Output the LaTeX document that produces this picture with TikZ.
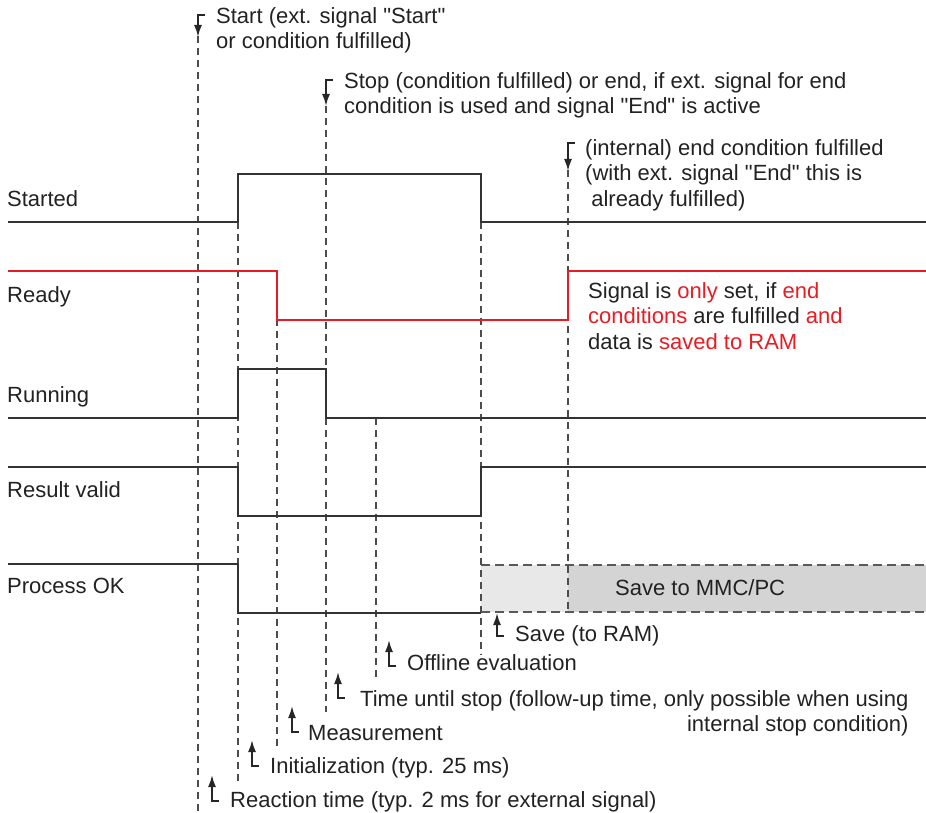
\documentclass[tikz,border=0pt]{standalone}
\usepackage{fontspec}
\setmainfont{Liberation Sans}
\usepackage{xcolor}
\usepackage{tikz}
\usetikzlibrary{arrows.meta}

\definecolor{sigred}{RGB}{232,28,36}
\definecolor{ink}{RGB}{34,34,34}

\begin{document}
\begin{tikzpicture}[
  x=1pt, y=-1pt,
  every node/.style={font=\fontsize{22}{25.5}\selectfont, text=ink, inner sep=0pt},
  signame/.style={anchor=base west},
  note/.style={anchor=north west, align=left},
  sig/.style={line width=2.2pt, draw=black!80},
  redsig/.style={line width=2.2pt, draw=sigred},
  guide/.style={line width=1.2pt, draw=black!70, dash pattern=on 7pt off 5pt},
  boxedge/.style={line width=2.2pt, draw=black!65, dash pattern=on 9pt off 5pt},
  pointer/.style={-{Latex[length=12pt,width=8pt]}, line width=1.8pt, draw=black!85}
]
  \useasboundingbox (0,0) rectangle (926,813);

  % save phase
  \fill[black!9] (481,565) rectangle (568,612);
  \fill[black!17] (568,565) rectangle (926,612);
  \draw[boxedge] (481,565) -- (926,565);
  \draw[boxedge] (481,612) -- (926,612);
  \node[anchor=base west] (mmc) at (615,595) {Save to MMC/PC};

  % time marks
  \draw[guide] (198,36) -- (198,813);
  \draw[guide] (238,174) -- (238,781);
  \draw[guide] (277,271) -- (277,748);
  \draw[guide] (326,106) -- (326,712);
  \draw[guide] (376,418) -- (376,677);
  \draw[guide] (481,174) -- (481,655);
  \draw[guide] (568,170) -- (568,612);

  % signals
  \draw[sig] (8,222) -- (238,222) -- (238,174) -- (481,174) -- (481,222) -- (926,222);
  \draw[redsig] (8,271) -- (277,271) -- (277,320) -- (568,320) -- (568,271) -- (926,271);
  \draw[sig] (8,418) -- (238,418) -- (238,369) -- (326,369) -- (326,418) -- (926,418);
  \draw[sig] (8,467) -- (238,467) -- (238,516) -- (481,516) -- (481,467) -- (926,467);
  \draw[sig] (8,564) -- (238,564) -- (238,613) -- (481,613);

  \node[signame] (started) at (7,207) {Started};
  \node[signame] (ready) at (7,302) {Ready};
  \node[signame] (running) at (7,402) {Running};
  \node[signame] (valid) at (7,497) {Result valid};
  \node[signame] (procok) at (7,593) {Process OK};

  % events from above
  \draw[pointer] (205,15) -| (198,37);
  \node[note] (start) at (216,7) {Start (ext. signal \textquotedbl Start\textquotedbl\\or condition fulfilled)};
  \draw[pointer] (333,80) -| (326,106);
  \node[note] (stop) at (344,72) {Stop (condition fulfilled) or end, if ext. signal for end\\condition is used and signal \textquotedbl End\textquotedbl{} is active};
  \draw[pointer] (575,143) -| (568,171);
  \node[note] (endcond) at (585,139) {(internal) end condition fulfilled\\(with ext. signal \textquotedbl End\textquotedbl{} this is\\\ already fulfilled)};
  \node[note] (readynote) at (588,282) {Signal is \textcolor{sigred}{only} set, if \textcolor{sigred}{end}\\
    \textcolor{sigred}{conditions} are fulfilled \textcolor{sigred}{and}\\
    data is \textcolor{sigred}{saved to RAM}};

  % phases from below
  \draw[pointer] (504,636) -| (497,613);
  \node[signame] (save) at (515,641) {Save (to RAM)};
  \draw[pointer] (396,666) -| (389,640);
  \node[signame] (offline) at (407,670) {Offline evaluation};
  \draw[pointer] (345,698) -| (338,672);
  \node[note, align=right] (follow) at (360,690) {Time until stop (follow-up time, only possible when using\\internal stop condition)};
  \draw[pointer] (299,732) -| (292,706);
  \node[signame] (measure) at (308,740) {Measurement};
  \draw[pointer] (259,766) -| (252,740);
  \node[signame] (init) at (270,773) {Initialization (typ. 25 ms)};
  \draw[pointer] (219,801) -| (212,775);
  \node[signame] (react) at (230,807) {Reaction time (typ. 2 ms for external signal)};
\end{tikzpicture}
\end{document}
